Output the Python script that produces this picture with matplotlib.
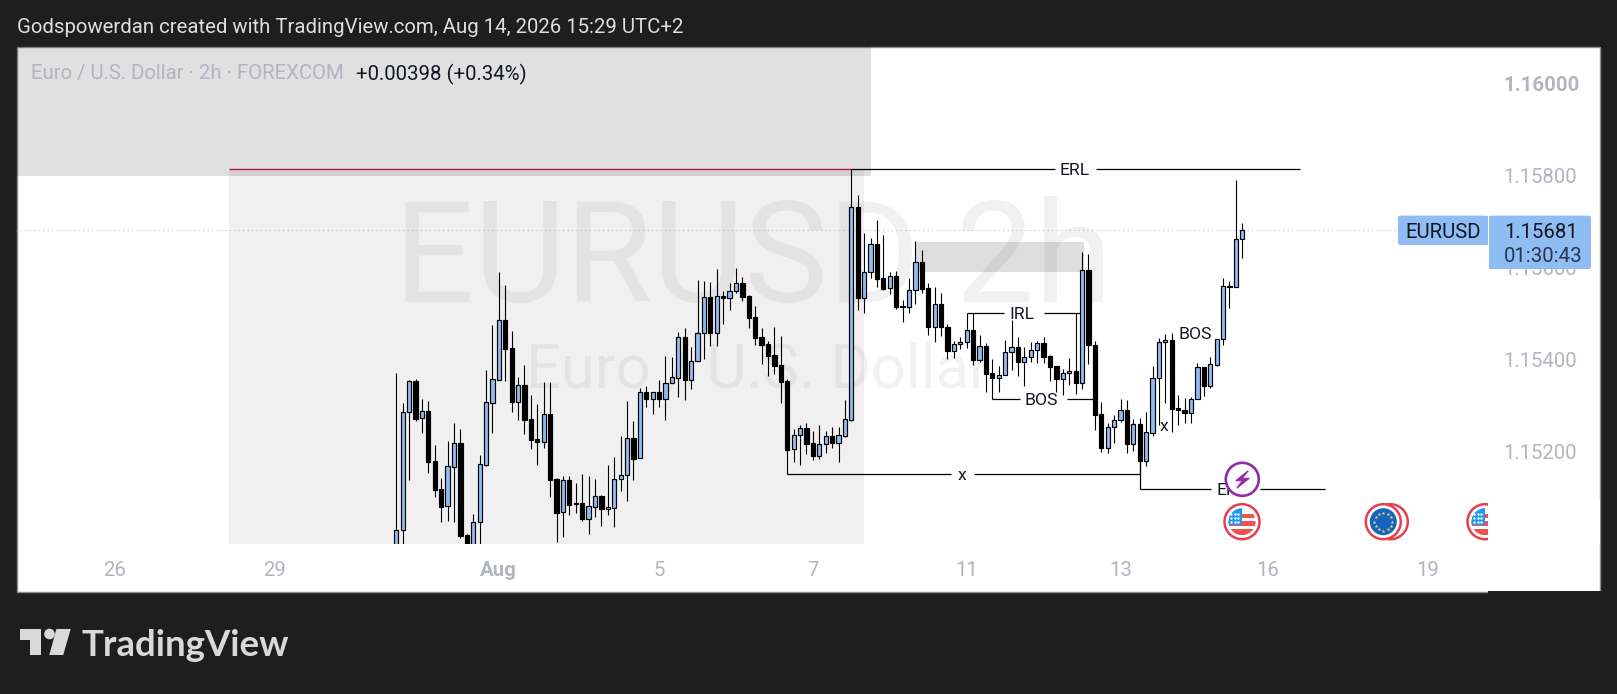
import numpy as np
import matplotlib
matplotlib.use("Agg")
import matplotlib.pyplot as plt
from matplotlib.patches import Circle, FancyBboxPatch, Polygon, Rectangle

plt.rcParams['font.family'] = ['Roboto', 'DejaVu Sans']

# 2h bars
opens = [1.14966,1.15031,1.15286,1.15354,1.15273,1.15289,1.15180,1.15120,1.15082,1.15168,
         1.15220,1.15019,1.14966,1.15047,1.15172,1.15307,1.15357,1.15487,1.15425,1.15309,
         1.15345,1.15271,1.15228,1.15222,1.15282,1.15141,1.15069,1.15139,1.15089,1.15089,
         1.15055,1.15081,1.15104,1.15076,1.15079,1.15141,1.15149,1.15230,1.15186,1.15330,
         1.15314,1.15330,1.15314,1.15349,1.15361,1.15449,1.15357,1.15397,1.15458,1.15536,
         1.15459,1.15539,1.15534,1.15549,1.15566,1.15539,1.15492,1.15449,1.15434,1.15410,
         1.15388,1.15353,1.15206,1.15236,1.15251,1.15219,1.15192,1.15217,1.15234,1.15220,
         1.15235,1.15270,1.15731,1.15534,1.15591,1.15651,1.15577,1.15555,1.15581,1.15517,
         1.15515,1.15551,1.15612,1.15555,1.15470,1.15521,1.15471,1.15420,1.15434,1.15438,
         1.15464,1.15400,1.15429,1.15371,1.15361,1.15366,1.15416,1.15427,1.15396,1.15406,
         1.15421,1.15436,1.15408,1.15387,1.15359,1.15371,1.15375,1.15350,1.15594,1.15432,
         1.15282,1.15209,1.15254,1.15269,1.15291,1.15218,1.15261,1.15181,1.15242,1.15360,
         1.15438,1.15442,1.15296,1.15291,1.15285,1.15314,1.15384,1.15344,1.15388,1.15445,
         1.15560,1.15558,1.15662]
highs = [1.15372,1.15306,1.15356,1.15358,1.15315,1.15311,1.15215,1.15144,1.15224,1.15263,
         1.15250,1.15022,1.15065,1.15193,1.15378,1.15476,1.15591,1.15563,1.15463,1.15363,
         1.15389,1.15324,1.15304,1.15352,1.15352,1.15144,1.15148,1.15148,1.15133,1.15152,
         1.15148,1.15141,1.15107,1.15172,1.15189,1.15235,1.15311,1.15267,1.15338,1.15343,
         1.15330,1.15356,1.15408,1.15406,1.15461,1.15469,1.15428,1.15573,1.15571,1.15569,
         1.15597,1.15550,1.15567,1.15599,1.15580,1.15541,1.15517,1.15469,1.15441,1.15471,
         1.15452,1.15358,1.15250,1.15259,1.15263,1.15246,1.15259,1.15246,1.15254,1.15254,
         1.15313,1.15813,1.15758,1.15675,1.15665,1.15704,1.15671,1.15591,1.15593,1.15530,
         1.15578,1.15658,1.15639,1.15567,1.15558,1.15545,1.15478,1.15441,1.15450,1.15502,
         1.15502,1.15454,1.15437,1.15402,1.15387,1.15443,1.15487,1.15450,1.15428,1.15439,
         1.15440,1.15450,1.15411,1.15387,1.15380,1.15404,1.15502,1.15634,1.15630,1.15441,
         1.15309,1.15263,1.15280,1.15315,1.15313,1.15272,1.15274,1.15287,1.15387,1.15447,
         1.15456,1.15458,1.15324,1.15317,1.15319,1.15393,1.15384,1.15406,1.15445,1.15578,
         1.15571,1.15790,1.15697]
lows = [1.14922,1.14966,1.15138,1.15266,1.15242,1.15155,1.15101,1.15047,1.15049,1.15047,
        1.15012,1.14955,1.14940,1.14944,1.15170,1.15240,1.15357,1.15353,1.15287,1.15269,
        1.15239,1.15207,1.15172,1.15209,1.15102,1.15005,1.15016,1.15063,1.15067,1.15050,
        1.15022,1.15059,1.15038,1.15063,1.15036,1.15116,1.15094,1.15138,1.15186,1.15298,
        1.15282,1.15298,1.15269,1.15349,1.15319,1.15313,1.15337,1.15397,1.15402,1.15430,
        1.15430,1.15478,1.15508,1.15545,1.15528,1.15469,1.15432,1.15391,1.15365,1.15369,
        1.15306,1.15152,1.15177,1.15172,1.15196,1.15183,1.15185,1.15198,1.15209,1.15179,
        1.15233,1.15266,1.15507,1.15502,1.15578,1.15558,1.15552,1.15543,1.15511,1.15481,
        1.15502,1.15521,1.15545,1.15454,1.15439,1.15452,1.15402,1.15404,1.15424,1.15426,
        1.15389,1.15395,1.15330,1.15315,1.15330,1.15366,1.15378,1.15365,1.15343,1.15395,
        1.15393,1.15393,1.15354,1.15330,1.15324,1.15345,1.15326,1.15337,1.15391,1.15248,
        1.15200,1.15198,1.15220,1.15265,1.15198,1.15202,1.15152,1.15170,1.15235,1.15259,
        1.15306,1.15243,1.15259,1.15263,1.15263,1.15314,1.15322,1.15339,1.15387,1.15432,
        1.15513,1.15558,1.15621]
closes = [1.15031,1.15287,1.15353,1.15272,1.15288,1.15179,1.15118,1.15081,1.15169,1.15219,
          1.15018,1.14987,1.15047,1.15173,1.15308,1.15358,1.15487,1.15424,1.15309,1.15345,
          1.15269,1.15226,1.15222,1.15282,1.15140,1.15068,1.15139,1.15085,1.15086,1.15055,
          1.15082,1.15104,1.15075,1.15080,1.15141,1.15149,1.15230,1.15185,1.15330,1.15314,
          1.15330,1.15314,1.15349,1.15362,1.15449,1.15357,1.15397,1.15458,1.15536,1.15459,
          1.15538,1.15534,1.15549,1.15566,1.15537,1.15491,1.15447,1.15433,1.15409,1.15387,
          1.15352,1.15205,1.15236,1.15251,1.15218,1.15192,1.15217,1.15234,1.15220,1.15236,
          1.15271,1.15731,1.15533,1.15591,1.15651,1.15576,1.15554,1.15581,1.15515,1.15515,
          1.15551,1.15612,1.15554,1.15470,1.15521,1.15470,1.15420,1.15434,1.15438,1.15464,
          1.15400,1.15429,1.15369,1.15361,1.15367,1.15416,1.15427,1.15396,1.15406,1.15421,
          1.15436,1.15406,1.15385,1.15359,1.15371,1.15375,1.15350,1.15594,1.15431,1.15280,
          1.15209,1.15254,1.15269,1.15291,1.15217,1.15260,1.15180,1.15243,1.15360,1.15438,
          1.15442,1.15294,1.15290,1.15285,1.15314,1.15384,1.15344,1.15390,1.15445,1.15560,
          1.15558,1.15662,1.15681]

price_ticks = [1.152, 1.154, 1.156, 1.158, 1.160]
price_labels = ['1.15200', '1.15400', '1.15600', '1.15800', '1.16000']
date_ticks = [-44, -19, 16, 41, 65, 89, 113, 136, 161]
date_labels = ['26', '29', 'Aug', '5', '7', '11', '13', '16', '19']
last_price = 1.15681

# horizontal drawings: label, price, start bar, gap start, gap end, end bar, label bar
level_names = ['ERL', 'IRL', 'BOS', 'x', 'ERL']
level_prices = [1.15814, 1.15501, 1.15314, 1.15152, 1.15119]
level_from = [71, 89, 93, 61, 116]
level_gap_a = [102.7, 94.8, 97.3, 86.5, 127.1]
level_gap_b = [109.2, 101.1, 104.6, 90.1, 134.7]
level_to = [141, 106.7, 109, 116, 144.9]
level_text = [105.9, 97.6, 100.7, 88.3, 130.3]

W, H = 1617, 694
BLUE = '#8fbcf2'
GREY = '#b2b5be'
FS = 14.65
opens, highs, lows, closes = map(np.array, (opens, highs, lows, closes))
bars = np.arange(len(opens))

fig = plt.figure(figsize=(W / 100, H / 100), dpi=100, facecolor='#1e1e1e')

# background panel, in pixels
bg = fig.add_axes([0, 0, 1, 1], zorder=0)
bg.set_xlim(0, W)
bg.set_ylim(H, 0)
bg.axis('off')
bg.add_patch(Rectangle((16.5, 46.5), 1583, 545, fc='white', ec='#8c8c8c', lw=1))
bg.add_patch(Rectangle((1488, 591), 113, 3, fc='#1e1e1e', ec='none'))

# chart
ax = fig.add_axes([16 / W, (H - 544) / H, (1488 - 16) / W, (544 - 46) / H], zorder=1)
ax.patch.set_visible(False)
ax.set_xlim(-59.34, 170.34)
ax.set_ylim(1.15, 1.16081)
for s in ax.spines.values():
    s.set_visible(False)

ax.yaxis.tick_right()
ax.set_yticks(price_ticks, price_labels, color=GREY, fontsize=FS)
ax.set_xticks(date_ticks, date_labels, color=GREY, fontsize=FS)
ax.tick_params(axis='both', length=0)
ax.tick_params(axis='y', pad=11)
ax.tick_params(axis='x', pad=12.5)
ax.get_yticklabels()[-1].set_fontweight('bold')
ax.get_xticklabels()[2].set_fontweight('bold')

# drawn boxes
ax.add_patch(Rectangle((-59.34, 1.15799), 133.4, 0.00282, fc='black', alpha=0.12, ec='none', zorder=2))
ax.add_patch(Rectangle((-26.1, 1.15), 99.1, 0.00814, fc='black', alpha=0.06, ec='none', zorder=1))
ax.add_patch(Rectangle((81, 1.15591), 26.3, 0.00065, fc='black', alpha=0.13, ec='none', zorder=2.5))

# watermark
ax.text(55.6, 1.15526, 'EURUSD 2h', fontsize=101.5, color='#131722', alpha=0.06, ha='center', va='baseline', zorder=1.5)
ax.text(20.2, 1.15339, 'Euro / U.S. Dollar', fontsize=44.2, color='#131722', alpha=0.06, ha='left', va='baseline', zorder=1.5)

ax.axhline(last_price, color='#8fa9cc', lw=0.8, ls=(0, (1, 3)), alpha=0.7, zorder=2.2)

ax.hlines(1.15814, -26.1, 71, color='#f7a8c0', lw=1.8, zorder=3)
ax.hlines(1.15814, -26.1, 71, color='#8f2450', lw=0.8, zorder=3.1)

# candles
up = closes >= opens
body_low = np.minimum(opens, closes)
body_h = np.abs(closes - opens)
ax.vlines(bars, lows, highs, color='black', lw=0.8, zorder=4)
ax.bar(bars[up], body_h[up], 0.66, body_low[up], color=BLUE, edgecolor='black', lw=0.85, zorder=5)
ax.bar(bars[~up], body_h[~up], 0.66, body_low[~up], color='black', edgecolor='black', lw=0.85, zorder=5)

# levels
for i in range(len(level_names)):
    ax.hlines(level_prices[i], level_from[i], level_gap_a[i], color='black', lw=0.9, zorder=6)
    ax.hlines(level_prices[i], level_gap_b[i], level_to[i], color='black', lw=0.9, zorder=6)
    ax.text(level_text[i], level_prices[i], level_names[i], fontsize=12.6, color='#131722',
            ha='center', va='center_baseline', zorder=6)
ax.vlines(116, 1.15119, 1.15180, color='black', lw=0.9, zorder=6)
ax.text(124.6, 1.15459, 'BOS', fontsize=12.6, color='#131722', ha='center', va='center_baseline', zorder=6)
ax.text(119.8, 1.15259, 'x', fontsize=12.6, color='#131722', ha='center', va='center_baseline', zorder=6)

# overlay, in pixels
top = fig.add_axes([0, 0, 1, 1], zorder=2)
top.set_xlim(0, W)
top.set_ylim(H, 0)
top.axis('off')


def us_icon(cx, cy):
    top.add_patch(Circle((cx, cy), 17.5, fc='white', ec='#e5404e', lw=1.8, zorder=3))
    clip = Circle((cx, cy), 13.5, fc='white', ec='none', zorder=3)
    top.add_patch(clip)
    for dy, h in ((-7.5, 4), (-1, 5.5), (7, 6)):
        r = Rectangle((cx - 14, cy + dy), 28, h, fc='#ef5350', ec='none', zorder=3.1)
        top.add_patch(r)
        r.set_clip_path(clip)
    r = Rectangle((cx - 14, cy - 14), 14, 17.5, fc='#2196f3', ec='none', zorder=3.2)
    top.add_patch(r)
    r.set_clip_path(clip)
    sx, sy = np.meshgrid(cx - np.array([11, 7.5, 4]), cy - np.array([8, 4, 0]))
    top.scatter(sx.ravel(), sy.ravel(), s=3, color='white', linewidths=0, zorder=3.3)


def eu_icon(cx, cy):
    top.add_patch(Circle((cx + 7, cy), 17.5, fc='white', ec='#e5404e', lw=1.8, zorder=3))
    top.add_patch(Circle((cx, cy), 17.5, fc='white', ec='#e5404e', lw=1.8, zorder=3))
    top.add_patch(Circle((cx, cy), 13.5, fc='#1565c0', ec='none', zorder=3.1))
    a = np.arange(12) * np.pi / 6
    top.scatter(cx + 9 * np.cos(a), cy + 9 * np.sin(a), s=8, marker='*', color='#f2d46b', linewidths=0, zorder=3.2)


us_icon(1242, 521.7)
eu_icon(1383.3, 521.7)
us_icon(1485, 521.7)
top.add_patch(Rectangle((1488, 500), 111.5, 44, fc='white', ec='none', zorder=4))

top.add_patch(Circle((1242.3, 479.3), 16.5, fc='white', ec='#8e2ba8', lw=1.9, zorder=3))
top.add_patch(Polygon([(1248.3, 470.7), (1235.7, 480.7), (1242.3, 480.7), (1236.7, 488.3),
                       (1249.3, 478.3), (1242.3, 478.3)], fc='#9c27b0', ec='#9c27b0', lw=0.8, zorder=3.1))

# price tag
top.add_patch(FancyBboxPatch((1398, 215.6), 89.5, 29.4, boxstyle='round,pad=0,rounding_size=2.5',
                             fc=BLUE, ec='none', zorder=5))
top.add_patch(FancyBboxPatch((1489, 215.6), 102, 53.4, boxstyle='round,pad=0,rounding_size=2.5',
                             fc=BLUE, ec='none', zorder=5))
top.add_patch(Rectangle((1470, 215.6), 18, 29.4, fc=BLUE, ec='none', zorder=5))
top.add_patch(Rectangle((1489, 215.6), 18, 53.4, fc=BLUE, ec='none', zorder=5))
top.text(1443, 230.5, 'EURUSD', fontsize=FS, color='#131722', ha='center', va='center_baseline', zorder=6)
top.text(1504, 230.5, '1.15681', fontsize=FS, color='#131722', ha='left', va='center_baseline', zorder=6)
top.text(1504, 254.5, '01:30:43', fontsize=FS, color='#2a3550', ha='left', va='center_baseline', zorder=6)

# header and legend
top.text(16.5, 25.7, 'Godspowerdan created with TradingView.com, Aug 14, 2026 15:29 UTC+2',
         fontsize=FS, color='#dedede', ha='left', va='center_baseline')
top.text(31.4, 71.7, 'Euro / U.S. Dollar · 2h · FOREXCOM', fontsize=FS, color=GREY, ha='left', va='center_baseline')
top.text(356, 71.7, '+0.00398 (+0.34%)', fontsize=FS, color='#131722', ha='left', va='center_baseline')

# logo
LOGO = '#d9d9d9'
top.add_patch(Polygon([(20.4, 629), (40.5, 629), (40.5, 655), (30, 655), (30, 640), (20.4, 640)], fc=LOGO, ec='none'))
top.add_patch(Circle((49.5, 634), 5.3, fc=LOGO, ec='none'))
top.add_patch(Polygon([(70.7, 629), (56.4, 629), (49.3, 655), (63.2, 655)], fc=LOGO, ec='none'))
top.text(81.5, 643, 'TradingView', fontsize=26.4, fontweight='bold', family=['Lato', 'DejaVu Sans'], color=LOGO,
         ha='left', va='center_baseline')

fig.savefig('out.png', dpi=100, facecolor=fig.get_facecolor())
